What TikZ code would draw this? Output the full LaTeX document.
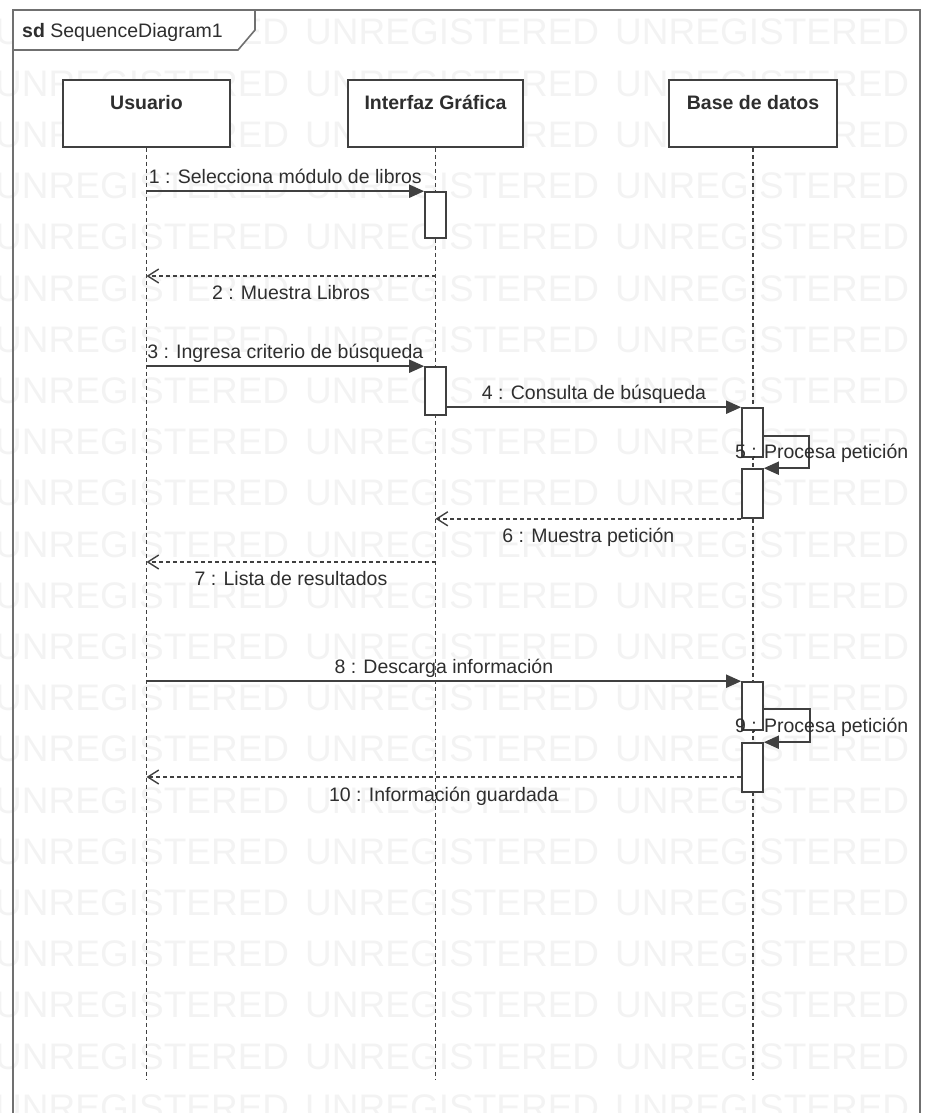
\documentclass[tikz,border=0pt]{standalone}
\usepackage{fontspec}
\setmainfont{Liberation Sans}
\usetikzlibrary{arrows.meta,positioning}
\definecolor{ln}{HTML}{404040}
\definecolor{fr}{HTML}{707070}
\definecolor{tx}{HTML}{2E2E2E}
\definecolor{wm}{HTML}{F3F3F3}

\begin{document}
\begin{tikzpicture}[x=1pt,y=-1pt,
  f/.style={font=\fontsize{19.5}{23}\selectfont,text=tx,inner sep=0pt},
  head/.style={draw=ln,line width=1.6pt,fill=white,minimum height=67pt,inner sep=0pt},
  htxt/.style={f,font=\fontsize{19.5}{23}\selectfont\bfseries,anchor=base,yshift=-30pt},
  act/.style={draw=ln,line width=1.6pt,fill=white,minimum width=21pt,inner sep=0pt},
  life/.style={draw=ln,line width=1.6pt,dash pattern=on 4pt off 3pt},
  msg/.style={draw=ln,line width=1.8pt,-{Triangle[length=15pt,width=13pt]}},
  ret/.style={draw=ln,line width=1.6pt,dash pattern=on 4pt off 3pt,
    -{Straight Barb[length=11pt,width=14pt,line width=1.4pt]}},
  lblup/.style={f,anchor=base,yshift=8pt},
  lbldn/.style={f,anchor=north,yshift=-9pt},
  wmk/.style={font=\fontsize{37}{40}\selectfont,text=wm,anchor=base west,inner sep=0pt}]
\useasboundingbox (0,0) rectangle (928,1113);
% watermark
\begin{scope}
\clip (0,0) rectangle (928,1113);
\foreach \k in {0,...,21}
  \foreach \c in {0,1,2}
    \node[wmk] (w\k-\c) at (-5+310*\c,45+51.2*\k) {UNREGISTERED};
\end{scope}
% frame
\draw[fr,line width=1.6pt] (13,1113) -- (13,10) -- (920,10) -- (920,1113);
\filldraw[fill=white,draw=fr,line width=1.6pt] (13,10) -- (255,10) -- (255,30) -- (238,50) -- (13,50) -- cycle;
\node[f,anchor=base west] (sd) at (22,38) {\textbf{sd} SequenceDiagram1};
% lifelines
\node[head,minimum width=167pt,label={[htxt]north:Usuario}] (usr) at (146.5,113.5) {};
\node[head,minimum width=175pt,label={[htxt]north:Interfaz Gráfica}] (gui) at (435.5,113.5) {};
\node[head,minimum width=168pt,label={[htxt]north:Base de datos}] (db) at (753,113.5) {};
\coordinate (bot) at (0,1080);
\foreach \n in {usr,gui,db} \draw[life] (\n.south) -- (\n |- bot);
% activations
\node[act,minimum height=46pt] (a1) at (435.5,215) {};
\node[act,minimum height=48pt] (a2) at (435.5,391) {};
\node[act,minimum height=49pt] (a3) at (752.5,432.5) {};
\node[act,minimum height=49pt] (a4) at (752.5,493.5) {};
\node[act,minimum height=48pt] (a5) at (752.5,706) {};
\node[act,minimum height=49pt] (a6) at (752.5,767.5) {};
% messages
\draw[msg] (usr |- a1.north west) -- node[lblup]{1 : Selecciona módulo de libros} (a1.north west);
\coordinate (r2) at (gui |- 0,276);
\draw[ret] (r2) -- node[lbldn]{2 : Muestra Libros} (usr |- r2);
\draw[msg] (usr |- a2.north west) -- node[lblup]{3 : Ingresa criterio de búsqueda} (a2.north west);
\draw[msg] (a2.east |- a3.north west) -- node[lblup]{4 : Consulta de búsqueda} (a3.north west);
\coordinate (s5) at (a3.east |- 0,436);
\draw[msg] (s5) -- ++(45,0) |- (a4.north east);
\node[f,anchor=base west] (l5) at (735,458) {5 : Procesa petición};
\draw[ret] (a4.south west) -- node[lbldn]{6 : Muestra petición} (gui |- a4.south west);
\coordinate (r7) at (gui |- 0,562);
\draw[ret] (r7) -- node[lbldn]{7 : Lista de resultados} (usr |- r7);
\draw[msg] (usr |- a5.north west) -- node[lblup]{8 : Descarga información} (a5.north west);
\coordinate (s9) at (a5.east |- 0,709);
\draw[msg] (s9) -- ++(46,0) |- (a6.north east);
\node[f,anchor=base west] (l9) at (735,732) {9 : Procesa petición};
\coordinate (r10) at (a6.west |- 0,777);
\draw[ret] (r10) -- node[lbldn]{10 : Información guardada} (usr |- r10);
\end{tikzpicture}
\end{document}
